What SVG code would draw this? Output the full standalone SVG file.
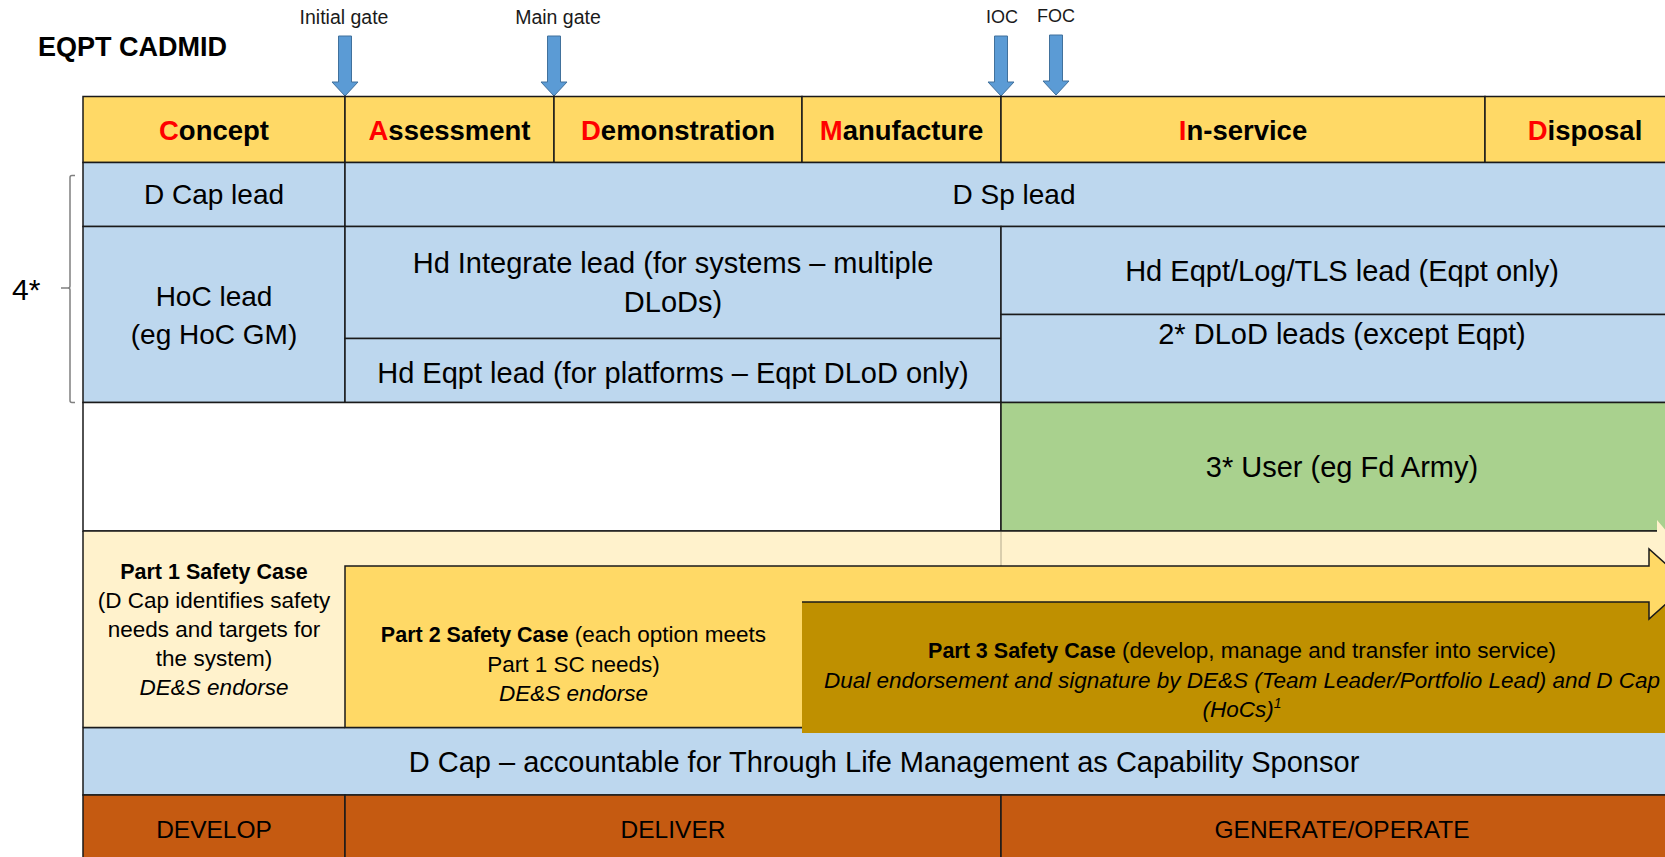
<svg xmlns="http://www.w3.org/2000/svg" width="1665" height="857" viewBox="0 0 1665 857">
<style>
  text { font-family: "Liberation Sans", Arial, sans-serif; fill: #000; }
  .cell { stroke: #1a1a1a; stroke-width: 1.5; }
  .hdr { fill: #FFD966; }
  .blue { fill: #BDD7EE; }
  .green { fill: #A9D18E; }
  .white { fill: #FFFFFF; }
  .orange { fill: #C55A11; }
  .edge { stroke: #1a1a1a; stroke-width: 1.5; fill: none; }
  .h { font-size: 27.5px; font-weight: bold; text-anchor: middle; }
  .r { fill: #FF0000; }
  .t { font-size: 28px; text-anchor: middle; }
  .t29 { font-size: 29px; text-anchor: middle; }
  .s { font-size: 22.5px; text-anchor: middle; }
  .b { font-weight: bold; font-size: 21.5px; }
  .i { font-style: italic; }
  .gate { font-size: 19.5px; text-anchor: middle; fill: #1a1a1a; }
  .gate2 { font-size: 18px; text-anchor: middle; fill: #1a1a1a; }
  .phase { font-size: 24.5px; text-anchor: middle; }
  .garrow { fill: #5B9BD5; stroke: #41719C; stroke-width: 1; }
</style>
<defs>
  <path id="ga" d="M -6.5 0 H 6.5 V 46 H 13 L 0 60 L -13 46 H -6.5 Z"/>
</defs>
<rect width="1665" height="857" fill="#FFFFFF"/>

<g id="title"><text x="38" y="56" font-size="27" font-weight="bold">EQPT CADMID</text></g>

<g id="gates">
  <g id="gate-initial"><text class="gate" x="344" y="24">Initial gate</text><use href="#ga" class="garrow" transform="translate(345,36)"/></g>
  <g id="gate-main"><text class="gate" x="558" y="24">Main gate</text><use href="#ga" class="garrow" transform="translate(554,36)"/></g>
  <g id="gate-ioc"><text class="gate2" x="1002" y="23">IOC</text><use href="#ga" class="garrow" transform="translate(1001,36)"/></g>
  <g id="gate-foc"><text class="gate2" x="1056" y="22">FOC</text><use href="#ga" class="garrow" transform="translate(1056,35)"/></g>
</g>

<g id="header">
  <g id="h-concept"><rect class="cell hdr" x="83" y="96.5" width="262" height="66"/><text class="h" x="214" y="140"><tspan class="r">C</tspan>oncept</text></g>
  <g id="h-assessment"><rect class="cell hdr" x="345" y="96.5" width="209" height="66"/><text class="h" x="449.5" y="140"><tspan class="r">A</tspan>ssessment</text></g>
  <g id="h-demonstration"><rect class="cell hdr" x="554" y="96.5" width="248" height="66"/><text class="h" x="678" y="140"><tspan class="r">D</tspan>emonstration</text></g>
  <g id="h-manufacture"><rect class="cell hdr" x="802" y="96.5" width="199" height="66"/><text class="h" x="901.5" y="140"><tspan class="r">M</tspan>anufacture</text></g>
  <g id="h-inservice"><rect class="cell hdr" x="1001" y="96.5" width="484" height="66"/><text class="h" x="1243" y="140"><tspan class="r">I</tspan>n-service</text></g>
  <g id="h-disposal"><rect class="cell hdr" x="1485" y="96.5" width="215" height="66"/><text class="h" x="1585" y="140"><tspan class="r">D</tspan>isposal</text></g>
</g>

<g id="row-leads">
  <g id="dcap-lead"><rect class="cell blue" x="83" y="162.5" width="262" height="64"/><text class="t" x="214" y="204">D Cap lead</text></g>
  <g id="dsp-lead"><rect class="cell blue" x="345" y="162.5" width="1355" height="64"/><text class="t" x="1014" y="204">D Sp lead</text></g>
</g>

<g id="row-hoc">
  <g id="hoc-lead"><rect class="cell blue" x="83" y="226.5" width="262" height="176"/><text class="t" x="214" y="306">HoC lead</text><text class="t" x="214" y="344">(eg HoC GM)</text></g>
  <g id="hd-integrate"><rect class="cell blue" x="345" y="226.5" width="656" height="112"/><text class="t29" x="673" y="273">Hd Integrate lead (for systems – multiple</text><text class="t29" x="673" y="312">DLoDs)</text></g>
  <g id="hd-eqpt"><rect class="cell blue" x="345" y="338.5" width="656" height="64"/><text class="t29" x="673" y="383">Hd Eqpt lead (for platforms – Eqpt DLoD only)</text></g>
  <g id="hd-eqpt-log"><rect class="cell blue" x="1001" y="226.5" width="699" height="88"/><text class="t29" x="1342" y="281">Hd Eqpt/Log/TLS lead (Eqpt only)</text></g>
  <g id="dlod-leads"><rect class="cell blue" x="1001" y="314.5" width="699" height="88"/><text class="t29" x="1342" y="343.5">2* DLoD leads (except Eqpt)</text></g>
</g>

<g id="bracket-4star">
  <path d="M 75 175.5 H 72 Q 70 175.5 70 177.5 V 286 Q 70 288 68 288 H 61 M 68 288 Q 70 288 70 290 V 400.5 Q 70 402.5 72 402.5 H 75" fill="none" stroke="#808080" stroke-width="1.5"/>
  <text x="12" y="300" font-size="30">4*</text>
</g>

<g id="row-user">
  <rect id="blank-cell" class="cell white" x="83" y="402.5" width="918" height="128.5"/>
  <g id="user"><rect class="cell green" x="1001" y="402.5" width="699" height="128.5"/><text class="t29" x="1342" y="477">3* User (eg Fd Army)</text></g>
</g>

<g id="row-dcap-accountable">
  <rect class="cell blue" x="83" y="727.5" width="1617" height="67.5"/>
  <text class="t29" x="884" y="772">D Cap – accountable for Through Life Management as Capability Sponsor</text>
</g>

<g id="row-phases">
  <g id="develop"><rect class="cell orange" x="83" y="795" width="262" height="65"/><text class="phase" x="214" y="838">DEVELOP</text></g>
  <g id="deliver"><rect class="cell orange" x="345" y="795" width="656" height="65"/><text class="phase" x="673" y="838">DELIVER</text></g>
  <g id="generate"><rect class="cell orange" x="1001" y="795" width="699" height="65"/><text class="phase" x="1342" y="838">GENERATE/OPERATE</text></g>
</g>

<g id="safety-case-1">
  <path d="M 83 531 H 1657 V 520 L 1681 548.5 L 1657 577 V 566 H 345 V 727.5 H 83 Z" fill="#FFF2CC"/>
</g>
<g id="safety-case-3-bg">
  <rect x="802" y="601.5" width="900" height="131.5" fill="#BF9000"/>
</g>
<g id="safety-case-2">
  <path d="M 345 566 H 1649 V 549 L 1688 584 L 1649 619 V 602 H 802 V 727.5 H 345 Z" fill="#FFD966"/>
  <path class="edge" d="M 802 727.5 H 345 V 566 H 1649 V 549 L 1688 584 L 1649 619 V 602 H 802"/>
</g>

<g id="connectors">
  <path class="edge" d="M 83 531 H 1657"/>
  <path class="edge" d="M 83 727.5 H 345"/>
  <path class="edge" d="M 83 531 V 727.5"/>
  <path d="M 1001 532 V 566" stroke="#000" stroke-opacity="0.25" stroke-width="1.2"/>
</g>

<g id="safety-texts">
  <g id="part1-text">
    <text class="s" x="214" y="579"><tspan class="b">Part 1 Safety Case</tspan></text>
    <text class="s" x="214" y="608">(D Cap identifies safety</text>
    <text class="s" x="214" y="637">needs and targets for</text>
    <text class="s" x="214" y="666">the system)</text>
    <text class="s i" x="214" y="695">DE&amp;S endorse</text>
  </g>
  <g id="part2-text">
    <text class="s" x="573.5" y="642"><tspan class="b">Part 2 Safety Case</tspan> (each option meets</text>
    <text class="s" x="573.5" y="672">Part 1 SC needs)</text>
    <text class="s i" x="573.5" y="701">DE&amp;S endorse</text>
  </g>
  <g id="part3-text">
    <text class="s" x="1242" y="658"><tspan class="b">Part 3 Safety Case</tspan> (develop, manage and transfer into service)</text>
    <text class="s i" x="1242" y="688">Dual endorsement and signature by DE&amp;S (Team Leader/Portfolio Lead) and D Cap</text>
    <text class="s i" x="1242" y="717">(HoCs)<tspan font-size="14" dy="-9">1</tspan></text>
  </g>
</g>
</svg>
